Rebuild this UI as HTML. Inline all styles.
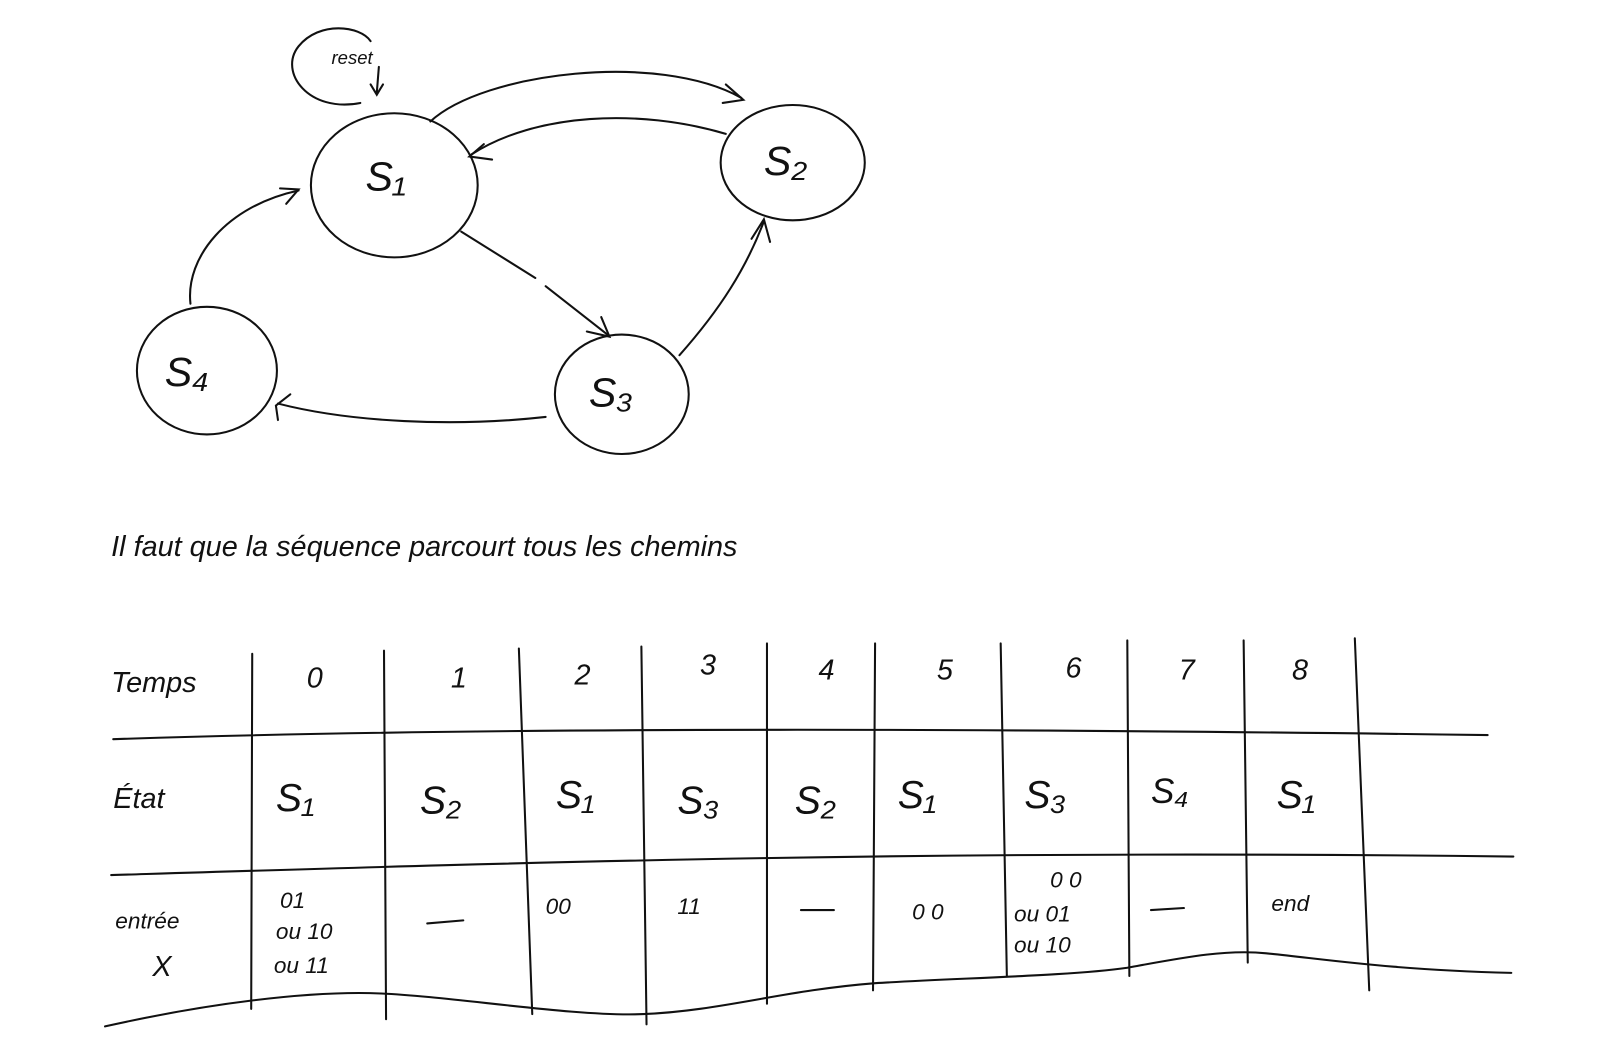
<!DOCTYPE html>
<html><head><meta charset="utf-8"><style>
html,body{margin:0;padding:0;background:#fff;}
svg{display:block;}
text{font-family:"Liberation Sans",sans-serif;fill:#111;font-style:italic;}
</style></head><body>
<svg width="1606" height="1055" viewBox="0 0 1606 1055" xmlns="http://www.w3.org/2000/svg">
<g transform="scale(1.0295)">
<g fill="none" stroke="#111" stroke-width="2" stroke-linecap="round">
<ellipse cx="383" cy="180" rx="81" ry="70"/>
<ellipse cx="770" cy="158" rx="70" ry="56"/>
<ellipse cx="201" cy="360" rx="68" ry="62"/>
<ellipse cx="604" cy="383" rx="65" ry="58"/>
<path d="M350 100 C 300 110 270 70 290 45 C 310 20 350 25 360 40"/>
<path d="M368 65 L366 90 M360 82 L366 92 L372 82"/>
<path d="M418 118 C 470 70 640 50 720 95"/>
<path d="M705 82 L722 97 L702 100"/>
<path d="M705 130 C 620 105 520 110 458 150"/>
<path d="M470 140 L456 152 L478 155"/>
<path d="M448 225 L520 270 M530 278 L590 325"/>
<path d="M570 322 L592 327 L584 308"/>
<path d="M660 345 C 700 300 725 260 742 215"/>
<path d="M730 232 L742 213 L748 235"/>
<path d="M530 405 C 440 415 340 410 270 392"/>
<path d="M282 383 L268 394 L270 408"/>
<path d="M185 295 C 180 250 220 200 290 185"/>
<path d="M272 183 L290 184 L278 198"/>
<path d="M110 718 C 500 705 1000 708 1445 714"/>
<path d="M108 850 C 500 838 900 825 1470 832"/>
<path d="M102 997 C 200 975 300 962 370 965 C 440 968 560 988 625 985 C 700 982 760 962 850 955 C 930 950 1040 948 1095 940 C 1150 930 1190 922 1230 926 C 1290 932 1350 942 1468 945"/>
<path d="M245 635 L244 980"/>
<path d="M373 632 L375 990"/>
<path d="M504 630 L517 985"/>
<path d="M623 628 L628 995"/>
<path d="M745 625 L745 975"/>
<path d="M850 625 L848 962"/>
<path d="M972 625 L978 948"/>
<path d="M1095 622 L1097 948"/>
<path d="M1208 622 L1212 935"/>
<path d="M1316 620 L1330 962"/>
<path d="M415 897 L450 894 M778 884 L810 884 M1118 884 L1150 882"/>
</g>
<g font-size="40">
<text x="355" y="185">S₁</text>
<text x="742" y="170">S₂</text>
<text x="160" y="375">S₄</text>
<text x="572" y="395">S₃</text>
</g>
<text x="322" y="62" font-size="18">reset</text>
<text x="108" y="540" font-size="28">Il faut que la séquence parcourt tous les chemins</text>
<g font-size="28">
<text x="108" y="672">Temps</text>
<text x="110" y="785">État</text>
<text x="112" y="902" font-size="22">entrée</text>
<text x="148" y="948">X</text>
<text x="298" y="668">0</text><text x="438" y="668">1</text><text x="558" y="665">2</text>
<text x="680" y="655">3</text><text x="795" y="660">4</text><text x="910" y="660">5</text>
<text x="1035" y="658">6</text><text x="1145" y="660">7</text><text x="1255" y="660">8</text>
<text x="268" y="788" font-size="38">S₁</text><text x="408" y="790" font-size="38">S₂</text>
<text x="540" y="785" font-size="38">S₁</text><text x="658" y="790" font-size="38">S₃</text>
<text x="772" y="790" font-size="38">S₂</text><text x="872" y="785" font-size="38">S₁</text>
<text x="995" y="785" font-size="38">S₃</text><text x="1118" y="780" font-size="34">S₄</text>
<text x="1240" y="785" font-size="38">S₁</text>
</g>
<g font-size="22">
<text x="272" y="882">01</text><text x="268" y="912">ou 10</text><text x="266" y="945">ou 11</text>
<text x="530" y="888">00</text><text x="658" y="888">11</text><text x="886" y="893">0 0</text>
<text x="1020" y="862">0 0</text><text x="985" y="895">ou 01</text><text x="985" y="925">ou 10</text>
<text x="1235" y="885">end</text>
</g>
</g>
</svg>
</body></html>
